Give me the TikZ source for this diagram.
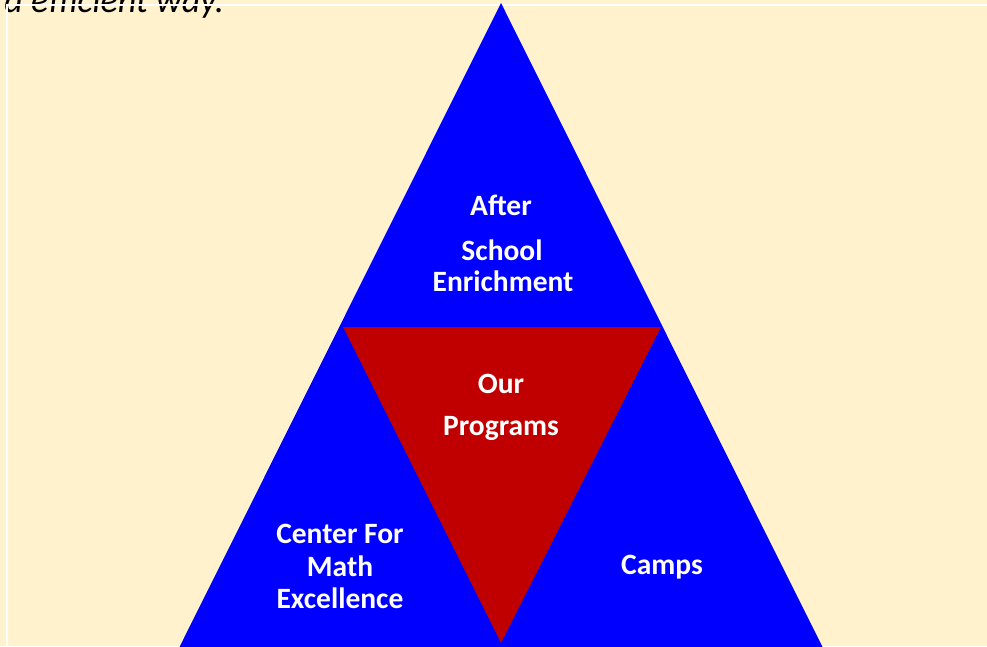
\documentclass[tikz,border=0pt]{standalone}
\usepackage{fontspec}
\setmainfont{Carlito}
\definecolor{cream}{HTML}{FFF2CC}
\definecolor{pblue}{HTML}{0000FF}
\definecolor{pred}{HTML}{C00000}
\begin{document}
\begin{tikzpicture}[x=1pt,y=-1pt,
  lbl/.style={text=white,font=\fontsize{29.5}{32}\selectfont\bfseries,anchor=base,inner sep=0pt},
  frame/.style={draw=white,line width=2pt}]
\useasboundingbox (0,0) rectangle (987,646);
\fill[cream] (0,0) rectangle (987,646);
\begin{scope}
\clip (0,0) rectangle (987,646);
\node[anchor=base east,inner sep=0pt,font=\fontsize{36}{42}\selectfont\itshape] (intro) at (224,12) {d efficient way.};
\draw[frame] (987,5) -- (7,5) -- (7,646);
\fill[pblue] (501,3) coordinate (apex) -- (177.5,651) coordinate (bl) -- (824.5,651) coordinate (br) -- cycle;
\fill[pred] (343,327) coordinate (rl) -- (661,327) coordinate (rr) -- (501,643) coordinate (rb) -- cycle;
\end{scope}
\node[lbl] (after) at (501,215) {After};
\node[lbl] (school) at (502,260) {School};
\node[lbl] (enrich) at (503,291) {Enrichment};
\node[lbl] (our) at (501,393) {Our};
\node[lbl] (prog) at (501,435) {Programs};
\node[lbl] (center) at (340,543) {Center For};
\node[lbl] (math) at (340,576) {Math};
\node[lbl] (excel) at (340,608) {Excellence};
\node[lbl] (camps) at (662,574) {Camps};
\end{tikzpicture}
\end{document}
